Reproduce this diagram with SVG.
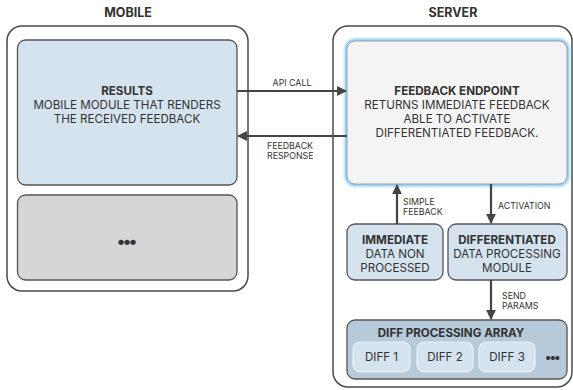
<svg xmlns="http://www.w3.org/2000/svg" width="573" height="390" viewBox="0 0 573 390">
<defs>
<style>
text{font-family:Inter,"Open Sans","Liberation Sans",sans-serif;fill:#333;text-anchor:middle;dominant-baseline:central}
.hdr{font-size:12.5px;font-weight:700}
.b{font-size:11.6px;font-weight:700}
.t{font-size:11.6px}
.lbl{font-size:8.8px;text-anchor:start}
.dots{font-size:17px;font-weight:700;letter-spacing:-2px}
.outer{fill:#fff;stroke:#4a4a4a;stroke-width:1.5}
.box{stroke:#555;stroke-width:1.3}
.conn{stroke:#444;stroke-width:2.2;fill:none}
</style>
<marker id="ah" viewBox="0 0 10 10" refX="9" refY="5" markerWidth="4.5" markerHeight="4.5" markerUnits="strokeWidth" orient="auto"><path d="M0,0L10,5L0,10Z" fill="#444"/></marker>
<filter id="glow" x="-10%" y="-10%" width="120%" height="120%"><feGaussianBlur stdDeviation="1.5"/></filter>
</defs>
<g id="mobile">
<text class="hdr" x="128" y="12">MOBILE</text>
<rect class="outer" x="7" y="26" width="241" height="265" rx="15"/>
</g>
<g id="server">
<text class="hdr" x="453" y="12">SERVER</text>
<rect class="outer" x="333" y="26" width="239" height="361" rx="15"/>
</g>
<g id="results">
<rect class="box" x="17.5" y="40" width="219.5" height="145" rx="8" fill="#d5e3ef"/>
<text class="b" x="127" y="91">RESULTS</text>
<text class="t" x="127" y="105">MOBILE MODULE THAT RENDERS</text>
<text class="t" x="127" y="119">THE RECEIVED FEEDBACK</text>
</g>
<g id="more">
<rect class="box" x="17.5" y="195" width="219.5" height="85" rx="8" fill="#d6d6d6"/>
<text class="dots" x="126" y="241">•••</text>
</g>
<g id="endpoint">
<rect x="347" y="41" width="220" height="143" rx="8" fill="none" stroke="#7cc2f0" stroke-width="4.5" filter="url(#glow)"/>
<rect x="347" y="41" width="220" height="143" rx="8" fill="#f4f4f4" stroke="#9aa4ac" stroke-width="1"/>
<text class="b" x="457" y="91">FEEDBACK ENDPOINT</text>
<text class="t" x="457" y="105">RETURNS IMMEDIATE FEEDBACK</text>
<text class="t" x="457" y="119">ABLE TO ACTIVATE</text>
<text class="t" x="457" y="133">DIFFERENTIATED FEEDBACK.</text>
</g>
<g id="immediate">
<rect class="box" x="347" y="224" width="96" height="56" rx="8" fill="#d5e3ef"/>
<text class="b" x="395" y="240">IMMEDIATE</text>
<text class="t" x="395" y="254">DATA NON</text>
<text class="t" x="395" y="268">PROCESSED</text>
</g>
<g id="differentiated">
<rect class="box" x="448" y="224" width="119" height="56" rx="8" fill="#d5e3ef"/>
<text class="b" x="507" y="240">DIFFERENTIATED</text>
<text class="t" x="507" y="254">DATA PROCESSING</text>
<text class="t" x="507" y="268">MODULE</text>
</g>
<g id="array">
<rect class="box" x="347" y="320" width="220" height="59" rx="8" fill="#b7cad9"/>
<text class="b" x="451" y="333">DIFF PROCESSING ARRAY</text>
<g id="diff1"><rect x="353" y="342" width="57" height="30" rx="7" fill="#d5e3ef" stroke="#eaf1f7" stroke-width="1.2"/><text class="t" x="381.5" y="357">DIFF 1</text></g>
<g id="diff2"><rect x="417" y="342" width="56" height="30" rx="7" fill="#d5e3ef" stroke="#eaf1f7" stroke-width="1.2"/><text class="t" x="445" y="357">DIFF 2</text></g>
<g id="diff3"><rect x="479" y="342" width="56" height="30" rx="7" fill="#d5e3ef" stroke="#eaf1f7" stroke-width="1.2"/><text class="t" x="507" y="357">DIFF 3</text></g>
<text class="dots" x="552" y="357" style="font-size:13px;letter-spacing:-1.5px">•••</text>
</g>
<g id="connectors">
<line class="conn" x1="237" y1="91" x2="346" y2="91" marker-end="url(#ah)"/>
<line class="conn" x1="347" y1="136" x2="238" y2="136" marker-end="url(#ah)"/>
<line class="conn" x1="397" y1="224" x2="397" y2="185" marker-end="url(#ah)"/>
<line class="conn" x1="491" y1="184" x2="491" y2="223" marker-end="url(#ah)"/>
<line class="conn" x1="491" y1="280" x2="491" y2="319" marker-end="url(#ah)"/>
<text class="lbl" x="292" y="82" style="text-anchor:middle">API CALL</text>
<text class="lbl" x="267" y="145">FEEDBACK</text>
<text class="lbl" x="267" y="155">RESPONSE</text>
<text class="lbl" x="403" y="201">SIMPLE</text>
<text class="lbl" x="403" y="211">FEEBACK</text>
<text class="lbl" x="498" y="205">ACTIVATION</text>
<text class="lbl" x="502" y="295">SEND</text>
<text class="lbl" x="502" y="305">PARAMS</text>
</g>
</svg>
